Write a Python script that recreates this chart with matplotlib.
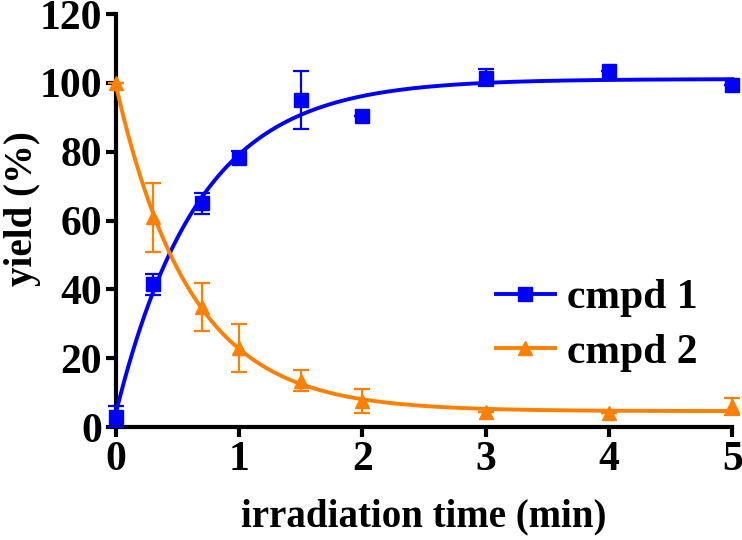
import numpy as np
import matplotlib
matplotlib.use("Agg")
import matplotlib.pyplot as plt

# irradiation time (min)
t = [0, 0.3, 0.7, 1.0, 1.5, 2.0, 3.0, 4.0, 5.0]

# cmpd 1 yield (%) and error
y1 = [3.0, 41.5, 65.0, 78.3, 95.0, 90.5, 101.5, 103.5, 99.5]
e1 = [3.0, 3.0, 3.0, 2.0, 8.5, 0.0, 2.5, 0.0, 0.0]

# cmpd 2 yield (%) and error
y2 = [100.0, 61.0, 35.0, 23.0, 13.5, 7.5, 4.3, 4.0, 6.0]
e2 = [0.0, 10.0, 7.0, 7.0, 3.0, 3.5, 0.0, 0.0, 2.5]

blue = "#0000FF"
orange = "#FF8000"


def fit_exp(x, y):
    # one-phase exponential y = a + b*exp(-k x), grid search on k
    x = np.asarray(x, float)
    y = np.asarray(y, float)
    best = None
    for k in np.linspace(0.2, 5, 2000):
        A = np.column_stack([np.ones_like(x), np.exp(-k * x)])
        coef, *_ = np.linalg.lstsq(A, y, rcond=None)
        r = np.sum((A @ coef - y) ** 2)
        if best is None or r < best[0]:
            best = (r, k, coef)
    _, k, (a, b) = best
    return lambda xx: a + b * np.exp(-k * xx)


plt.rcParams["font.family"] = ["Liberation Serif", "DejaVu Serif"]
plt.rcParams["font.weight"] = "bold"

fig = plt.figure(figsize=(7.42, 5.40), dpi=100)
ax = fig.add_axes([0.156, 0.209, 0.831, 0.765])

xs = np.linspace(0, 5, 300)
f1 = fit_exp(t, y1)
f2 = fit_exp(t, y2)

ax.plot(xs, f1(xs), color=blue, lw=2.8, clip_on=False, zorder=3)
ax.plot(xs, f2(xs), color=orange, lw=2.8, clip_on=False, zorder=3)

ax.errorbar(t, y1, yerr=e1, fmt="none", ecolor=blue, elinewidth=1.6,
            capsize=6, capthick=1.6, clip_on=False, zorder=4)
ax.errorbar(t, y2, yerr=e2, fmt="none", ecolor=orange, elinewidth=1.6,
            capsize=6, capthick=1.6, clip_on=False, zorder=4)
ax.plot(t, y1, "s", color=blue, ms=10, clip_on=False, zorder=5)
ax.plot(t, y2, "^", color=orange, ms=10, clip_on=False, zorder=5)

# legend handles
h1, = ax.plot([], [], "-s", color=blue, lw=2.8, ms=10)
h2, = ax.plot([], [], "-^", color=orange, lw=2.8, ms=10)
ax.legend([h1, h2], ["cmpd 1", "cmpd 2"], loc="center left",
          bbox_to_anchor=(0.617, 0.246), frameon=False, fontsize=30,
          handlelength=1.4, handletextpad=0.3, labelspacing=0.4,
          borderpad=0, borderaxespad=0)

ax.set_xlim(0, 5)
ax.set_ylim(0, 120)
ax.set_xticks([0, 1, 2, 3, 4, 5])
ax.set_yticks([0, 20, 40, 60, 80, 100, 120])

for s in ["top", "right"]:
    ax.spines[s].set_visible(False)
for s in ["left", "bottom"]:
    ax.spines[s].set_linewidth(3)

ax.tick_params(width=3, length=7, labelsize=30, pad=3)
for lab in ax.get_xticklabels() + ax.get_yticklabels():
    lab.set_fontweight("bold")

ax.set_xlabel("irradiation time (min)", fontsize=28, fontweight="bold", labelpad=14)
ax.set_ylabel("yield (%)", fontsize=28, fontweight="bold")
ax.yaxis.set_label_coords(-0.122, 0.53)

fig.savefig("out.png", dpi=100)
